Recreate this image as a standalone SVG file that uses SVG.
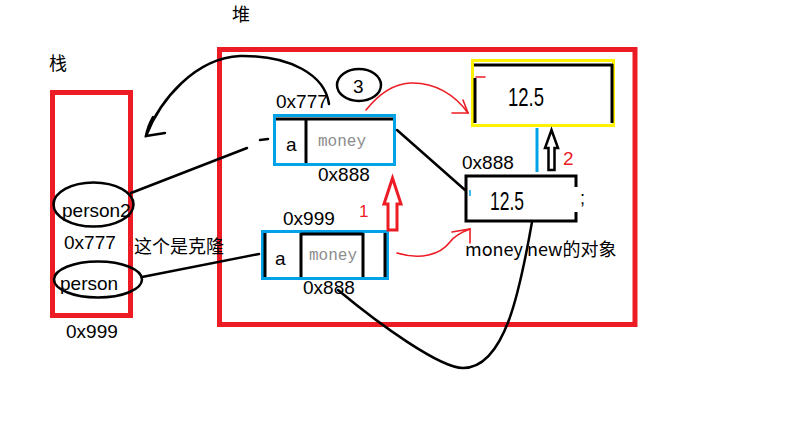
<svg xmlns="http://www.w3.org/2000/svg" width="803" height="435" viewBox="0 0 803 435">
<style>
.t{font-family:"Liberation Sans","Noto Sans CJK SC",sans-serif;font-size:19px;fill:#000}
.c{font-family:"Noto Sans CJK SC","Liberation Sans",sans-serif;font-size:18px;fill:#000}
.m{font-family:"Liberation Mono",monospace;font-size:16px;fill:#8c8c8c}
.big{font-size:26px}
.rt{fill:#ed1c24}
.red{fill:none;stroke:#ed1c24}
.blue{fill:none;stroke:#00a2e8;stroke-width:3}
.blk{fill:none;stroke:#000;stroke-width:3}
.ln{fill:none;stroke:#000;stroke-width:2.5;stroke-linecap:round}
.rl{fill:none;stroke:#ed1c24;stroke-width:1.6;stroke-linecap:round}
</style>
<rect width="803" height="435" fill="#fff"/>
<g id="stack">
<rect x="52.5" y="92.5" width="78" height="223" class="red" stroke-width="5"/>
<text x="49" y="70" class="c">栈</text>
</g>
<g id="heap">
<rect x="219.5" y="49.5" width="415.5" height="275" class="red" stroke-width="5"/>
<text x="232" y="21" class="c">堆</text>
</g>
<g id="person2">
<ellipse cx="93.5" cy="204.5" rx="40" ry="22" class="ln"/>
<text x="62" y="217" class="t">person2</text>
<text x="64" y="249" class="t">0x777</text>
</g>
<g id="person">
<ellipse cx="98" cy="279.5" rx="44" ry="18" class="ln"/>
<text x="60" y="290" class="t">person</text>
<text x="66" y="338" class="t">0x999</text>
</g>
<g id="clone-note">
<text x="134" y="253" class="c">这个是克隆</text>
</g>
<g id="obj777">
<text x="276" y="108" class="t">0x777</text>
<rect x="274.5" y="115.5" width="120" height="49" class="blue"/>
<line x1="276" y1="119" x2="393" y2="119" class="blk"/>
<line x1="306" y1="118" x2="306" y2="163" class="blk"/>
<text x="286" y="151" class="t">a</text>
<text x="318" y="146" class="m">money</text>
<text x="318" y="181" class="t">0x888</text>
</g>
<g id="mark3">
<ellipse cx="359" cy="85" rx="22" ry="16" class="ln"/>
<text x="353" y="93" class="t">3</text>
</g>
<g id="obj999">
<text x="283" y="225" class="t">0x999</text>
<rect x="262.5" y="231.5" width="125" height="47" class="blue"/>
<line x1="265" y1="233" x2="265" y2="277" class="blk"/>
<line x1="301" y1="233" x2="301" y2="277" class="blk"/>
<line x1="301" y1="234" x2="363" y2="234" class="blk"/>
<line x1="363" y1="233" x2="363" y2="277" class="blk"/>
<line x1="385" y1="233" x2="385" y2="277" class="blk"/>
<text x="275" y="265" class="t">a</text>
<text x="309" y="260" class="m">money</text>
<text x="303" y="294" class="t">0x888</text>
</g>
<g id="val-yellow">
<rect x="472.5" y="60.5" width="141" height="65" fill="none" stroke="#fff200" stroke-width="3"/>
<line x1="474" y1="65" x2="613" y2="65" class="blk"/>
<line x1="475" y1="78" x2="475" y2="123" class="blk"/>
<line x1="612" y1="64" x2="612" y2="123" class="blk"/>
<line x1="476" y1="77" x2="485" y2="77" class="rl"/>
<text x="508" y="106" class="t big" textLength="36" lengthAdjust="spacingAndGlyphs">12.5</text>
</g>
<g id="val-888">
<text x="462" y="169" class="t">0x888</text>
<path d="M576,187 V176 H466 V221 H576 V212" class="blk"/>
<line x1="470" y1="190" x2="470" y2="196" stroke="#00a2e8" stroke-width="1.5"/>
<text x="580" y="204" class="t" style="font-size:18px">;</text>
<text x="490" y="210" class="t big" textLength="34" lengthAdjust="spacingAndGlyphs">12.5</text>
<text x="465" y="256" class="c">money new的对象</text>
</g>
<g id="connectors">
<line x1="131" y1="193" x2="247" y2="148" class="ln"/>
<line x1="260" y1="140" x2="268" y2="139" class="ln"/>
<line x1="142" y1="277" x2="259" y2="254" class="ln"/>
<path d="M329,104 C325,75 290,55 240,56 C195,58 160,100 146,136" class="ln" stroke-width="2"/>
<path d="M153,117 C149,124 147,130 146,136 L165,133" class="ln" stroke-width="2"/>
<line x1="397" y1="130" x2="465" y2="190" class="ln"/>
<path d="M532,222 C520,290 505,368 463,368 C440,368 380,325 338,290" class="ln" stroke-width="3"/>
<path d="M366,110 C378,95 392,84 410,83 C435,82 455,95 468,113" class="rl"/>
<path d="M463,100 L468,113 L452,113" class="rl"/>
<path d="M397,253 C420,260 440,255 450,242 C455,235 462,232 470,229" class="rl"/>
<path d="M452,232 L470,229 L470,243" class="rl"/>
<line x1="537" y1="128" x2="537" y2="172" stroke="#00a2e8" stroke-width="3"/>
<path d="M548.5,170 V148 H545 L551.5,130 L558,148 H554.5 V170 Z" fill="none" stroke="#000" stroke-width="2.5"/>
<text x="563" y="165" class="t rt">2</text>
<path d="M388,230 V204 H384 L392.5,178 L401,204 H397 V230 Z" fill="none" stroke="#ed1c24" stroke-width="3"/>
<text x="359" y="217" class="t rt" style="font-size:17px">1</text>
</g>
</svg>
